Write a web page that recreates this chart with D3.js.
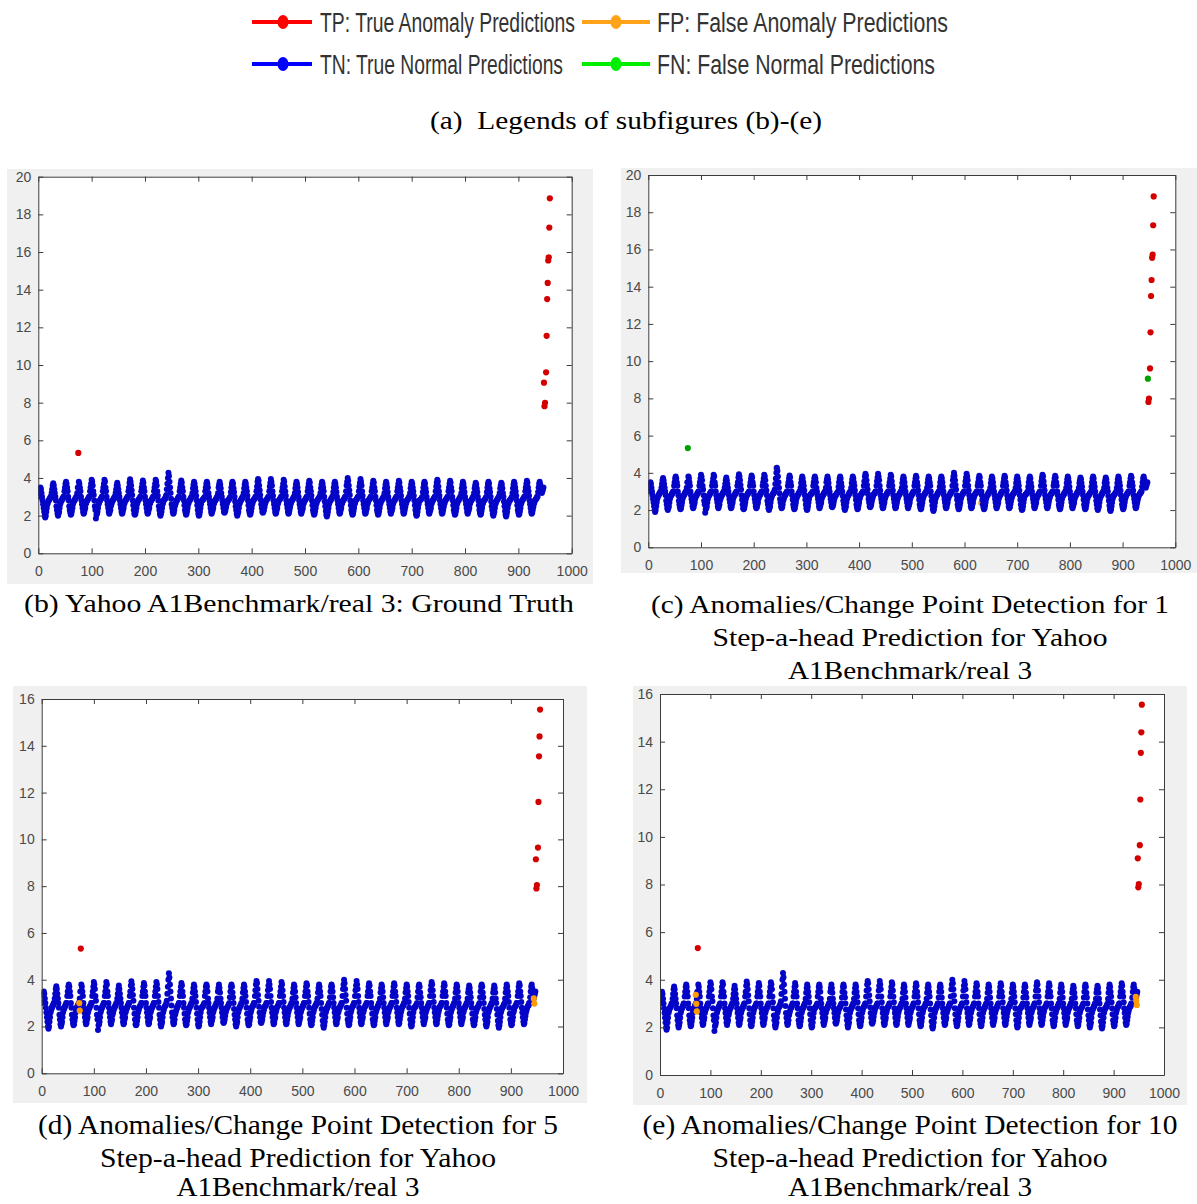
<!DOCTYPE html>
<html><head><meta charset="utf-8">
<script src="https://cdn.jsdelivr.net/npm/d3@7/dist/d3.min.js"></script>
<style>body{margin:0;background:#fff;}svg{display:block}</style>
</head><body>
<svg id="chart" width="1197" height="1204"></svg>
<script>
// ---------- data ----------
const xTicks = [0,100,200,300,400,500,600,700,800,900,1000];
const yTicks20 = [0,2,4,6,8,10,12,14,16,18,20];
const yTicks16 = [0,2,4,6,8,10,12,14,16];

// normal series (one row = 24 samples), index = x position
const tnValues = [
3.0,3.2,3.35,3.45,3.5,3.4,3.2,3.0,2.8,2.6,2.4,2.2,2.0,1.9,2.0,2.2,2.4,2.6,2.7,2.8,2.8,2.9,2.9,3.0,
3.0,3.2,3.4,3.6,3.72,3.6,3.4,3.2,3.0,2.8,2.5,2.3,2.1,2.0,2.1,2.2,2.4,2.6,2.7,2.8,2.8,2.9,2.9,3.0,
3.0,3.3,3.5,3.7,3.8,3.7,3.5,3.3,3.0,2.8,2.5,2.3,2.15,2.05,2.1,2.25,2.4,2.6,2.7,2.8,2.8,2.9,2.9,3.0,
3.0,3.2,3.5,null,3.8,3.7,3.5,3.3,3.0,2.8,2.6,2.4,2.2,2.1,2.15,2.3,2.4,2.6,2.7,2.8,2.8,2.9,2.9,3.0,
3.0,3.3,3.5,3.7,3.9,3.8,3.6,3.3,3.1,2.8,2.5,2.3,1.85,2.05,2.1,2.2,2.4,2.6,2.7,2.8,2.8,2.9,2.9,3.0,
3.0,3.3,3.5,3.7,3.9,3.8,3.5,3.3,3.0,2.8,2.6,2.4,2.2,2.1,2.2,2.3,2.5,2.6,2.7,2.8,2.8,2.9,2.9,3.0,
3.0,3.2,3.4,3.6,3.75,3.6,3.4,3.2,3.0,2.8,2.6,2.4,2.2,2.1,2.15,2.3,2.4,2.6,2.7,2.8,2.8,2.9,2.9,3.0,
3.0,3.3,3.5,3.75,3.93,3.8,3.6,3.35,3.1,2.8,2.55,2.3,2.1,2.05,2.1,2.25,2.4,2.6,2.7,2.8,2.85,2.9,2.9,3.0,
3.0,3.3,3.5,3.7,3.86,3.75,3.5,3.3,3.0,2.8,2.6,2.4,2.2,2.1,2.15,2.3,2.4,2.6,2.7,2.8,2.8,2.9,2.9,3.0,
3.0,3.3,3.5,3.7,3.9,3.8,3.6,3.3,3.05,2.8,2.5,2.3,2.1,2.0,2.1,2.2,2.4,2.6,2.7,2.8,2.85,2.9,2.9,3.0,
3.1,3.4,3.7,4.0,4.28,4.1,3.8,3.5,3.2,2.9,2.6,2.4,2.2,2.1,2.15,2.3,2.5,2.6,2.7,2.8,2.8,2.9,2.9,3.0,
3.0,3.3,3.5,3.7,3.86,3.75,3.5,3.3,3.0,2.8,2.55,2.3,2.15,2.05,2.1,2.25,2.4,2.6,2.7,2.8,2.8,2.9,2.9,3.0,
3.0,3.2,3.45,3.65,3.8,3.7,3.5,3.3,3.05,2.8,2.55,2.3,2.1,2.0,2.05,2.2,2.4,2.6,2.75,2.8,2.85,2.85,2.9,2.95,
3.0,3.3,3.5,3.7,3.8,3.7,3.5,3.2,3.0,2.8,2.6,2.4,2.2,2.1,2.2,2.3,2.4,2.6,2.7,2.8,2.8,2.9,2.9,3.0,
3.0,3.2,3.5,3.65,3.8,3.65,3.45,3.2,3.0,2.8,2.6,2.4,2.2,2.15,2.2,2.3,2.45,2.6,2.7,2.8,2.8,2.85,2.9,2.95,
3.0,3.25,3.5,3.7,3.8,3.7,3.45,3.25,3.0,2.75,2.5,2.3,2.1,2.0,2.1,2.2,2.4,2.6,2.7,2.8,2.8,2.9,2.9,3.0,
3.0,3.2,3.45,3.65,3.8,3.7,3.5,3.3,3.05,2.8,2.55,2.3,2.15,2.05,2.1,2.25,2.4,2.6,2.7,2.8,2.85,2.9,2.9,3.0,
3.0,3.3,3.55,3.8,3.95,3.85,3.6,3.35,3.1,2.85,2.6,2.4,2.2,2.15,2.2,2.3,2.45,2.6,2.7,2.8,2.85,2.9,2.9,3.0,
3.0,3.3,3.55,3.75,3.95,3.8,3.6,3.3,3.05,2.8,2.6,2.4,2.2,2.1,2.15,2.3,2.4,2.6,2.7,2.8,2.85,2.9,2.9,3.0,
3.0,3.3,3.5,3.7,3.9,3.8,3.55,3.3,3.05,2.8,2.6,2.4,2.2,2.1,2.15,2.3,2.45,2.6,2.7,2.8,2.8,2.9,2.9,3.0,
3.0,3.2,3.45,3.65,3.8,3.7,3.5,3.25,3.0,2.8,2.6,2.4,2.2,2.1,2.2,2.3,2.4,2.6,2.7,2.8,2.8,2.9,2.9,3.0,
3.0,3.3,3.5,3.7,3.85,3.75,3.5,3.3,3.05,2.8,2.55,2.3,2.15,2.05,2.1,2.25,2.4,2.6,2.7,2.8,2.85,2.9,2.9,3.0,
3.0,3.2,3.45,3.65,3.8,3.7,3.5,3.3,3.0,2.75,2.5,2.25,2.05,1.95,2.05,2.2,2.4,2.6,2.7,2.8,2.8,2.9,2.9,3.0,
3.0,3.25,3.5,3.7,3.8,3.7,3.5,3.25,3.0,2.8,2.6,2.4,2.2,2.1,2.15,2.3,2.4,2.6,2.7,2.8,2.8,2.9,2.9,3.0,
3.0,3.3,3.6,3.8,4.0,3.85,3.6,3.35,3.1,2.8,2.55,2.3,2.15,2.05,2.1,2.25,2.4,2.6,2.7,2.8,2.85,2.9,2.9,3.0,
3.0,3.3,3.55,3.75,3.95,3.8,3.6,3.3,3.05,2.8,2.6,2.4,2.2,2.1,2.15,2.3,2.4,2.6,2.7,2.8,2.85,2.9,2.9,3.0,
3.0,3.3,3.5,3.7,3.85,3.75,3.5,3.3,3.0,2.8,2.55,2.3,2.15,2.05,2.1,2.25,2.4,2.6,2.7,2.8,2.8,2.9,2.9,3.0,
3.0,3.2,3.45,3.65,3.8,3.7,3.5,3.25,3.0,2.8,2.6,2.4,2.2,2.1,2.2,2.3,2.4,2.6,2.7,2.8,2.8,2.9,2.9,3.0,
3.0,3.3,3.5,3.7,3.85,3.75,3.5,3.3,3.05,2.8,2.6,2.4,2.2,2.1,2.15,2.3,2.45,2.6,2.7,2.8,2.85,2.9,2.9,3.0,
3.0,3.2,3.45,3.65,3.8,3.7,3.5,3.3,3.05,2.8,2.55,2.3,2.1,2.0,2.05,2.2,2.4,2.6,2.75,2.8,2.85,2.85,2.9,2.95,
3.0,3.25,3.5,3.7,3.8,3.7,3.45,3.25,3.0,2.8,2.6,2.4,2.2,2.1,2.2,2.3,2.4,2.6,2.7,2.8,2.8,2.9,2.9,3.0,
3.0,3.3,3.55,3.75,3.9,3.8,3.55,3.3,3.05,2.8,2.6,2.4,2.2,2.1,2.15,2.3,2.45,2.6,2.7,2.8,2.85,2.9,2.9,3.0,
3.0,3.3,3.5,3.7,3.85,3.75,3.5,3.3,3.0,2.8,2.55,2.3,2.15,2.05,2.1,2.25,2.4,2.6,2.7,2.8,2.8,2.9,2.9,3.0,
3.0,3.2,3.45,3.65,3.8,3.7,3.5,3.25,3.0,2.8,2.6,2.4,2.2,2.1,2.2,2.3,2.4,2.6,2.7,2.8,2.8,2.9,2.9,3.0,
3.0,3.2,3.45,3.6,3.75,3.65,3.45,3.25,3.0,2.8,2.55,2.3,2.15,2.05,2.1,2.25,2.4,2.6,2.7,2.8,2.8,2.85,2.9,2.95,
3.0,3.25,3.5,3.7,3.8,3.7,3.45,3.25,3.0,2.75,2.5,2.3,2.1,2.0,2.1,2.2,2.4,2.6,2.7,2.8,2.8,2.9,2.9,3.0,
3.0,3.2,3.45,3.6,3.75,3.65,3.45,3.2,3.0,2.75,2.5,2.25,2.05,1.95,2.05,2.2,2.4,2.6,2.7,2.8,2.8,2.85,2.9,2.95,
3.0,3.2,3.45,3.65,3.8,3.7,3.5,3.3,3.05,2.8,2.55,2.3,2.15,2.05,2.1,2.25,2.4,2.6,2.7,2.8,2.85,2.9,2.9,3.0,
3.0,3.3,3.5,3.7,3.85,3.75,3.5,3.3,3.05,2.8,2.6,2.4,2.2,2.1,2.15,2.3,2.45,2.6,2.7,2.8,2.85,2.9,2.9,3.0,
3.0,3.25,3.5,3.7,3.8,3.65,3.45,3.3,3.2,3.3,3.4,3.5
];

// anomaly / misclassified points as [x, value]
const tpGroundTruth = [[75,5.33],[948,9.06],[949,7.81],[950,7.99],[952,9.61],[953,11.55],[954,13.5],[955,14.36],[956,15.55],[957,15.72],[958,17.3],[959,18.85]];
const tpStep1 = [[949,7.81],[950,7.99],[952,9.61],[953,11.55],[954,13.5],[955,14.36],[956,15.55],[957,15.72],[958,17.3],[959,18.85]];
const fnStep1 = [[75,5.33],[948,9.06]];
const fpStep1 = [[77,3.78],[243,4.25],[632,2.38]];
const tpStep5 = [[75,5.33],[948,9.15],[949,7.9],[950,8.05],[952,9.65],[953,11.6],[954,13.55],[955,14.4],[956,15.55]];
const fpStep5 = [[72,3.0],[73,2.68],[944,3.2],[945,2.98]];
const tpStep10 = [[75,5.33],[948,9.1],[949,7.88],[950,8.02],[952,9.65],[953,11.57],[954,13.53],[955,14.39],[956,15.55]];
const fpStep10 = [[71,3.37],[72,2.99],[73,2.67],[944,3.28],[945,3.12],[946,2.94]];

const legendLabels = ["TP: True Anomaly Predictions","FP: False Anomaly Predictions","TN: True Normal Predictions","FN: False Normal Predictions"];

// ---------- styles ----------
const COL = {tp:"#d40000", fp:"#ff9a00", tn:"#0505c8", fn:"#00a000"};
const LEGCOL = {tp:"#ff0000", fp:"#ffa31a", tn:"#0000ff", fn:"#00ee00"};

const svg = d3.select("#chart");
const tnPoints = tnValues.map((v,i)=>[i,v]).filter(d=>d[1]!==null);

// ---------- legend ----------
const legItems = [
  {key:"tp", label:legendLabels[0], lx:[252,312], mx:283, y:22, tx:320, tw:255},
  {key:"fp", label:legendLabels[1], lx:[582,650], mx:616, y:22, tx:657, tw:291},
  {key:"tn", label:legendLabels[2], lx:[252,312], mx:283, y:64, tx:320, tw:243},
  {key:"fn", label:legendLabels[3], lx:[582,650], mx:616, y:64, tx:657, tw:278}
];
const leg = svg.append("g");
legItems.forEach(it=>{
  leg.append("line").attr("x1",it.lx[0]).attr("x2",it.lx[1]).attr("y1",it.y).attr("y2",it.y)
    .attr("stroke",LEGCOL[it.key]).attr("stroke-width",4);
  leg.append("ellipse").attr("cx",it.mx).attr("cy",it.y).attr("rx",5.5).attr("ry",7).attr("fill",LEGCOL[it.key]);
  leg.append("text").attr("x",it.tx).attr("y",it.y+10).text(it.label)
    .attr("font-family","Liberation Sans, Arial, sans-serif").attr("font-size",27)
    .attr("fill","#333").attr("textLength",it.tw).attr("lengthAdjust","spacingAndGlyphs");
});
svg.append("text").attr("x",430).attr("y",129).attr("font-family","Liberation Serif, Times New Roman, serif")
  .attr("font-size",26).attr("fill","#000").attr("xml:space","preserve").text("(a)  Legends of subfigures (b)-(e)")
  .attr("textLength",392).attr("lengthAdjust","spacingAndGlyphs");

// ---------- panels ----------
const panels = [
  {id:"b", bg:[7,169,586,415], l:38.3, r:571.7, t:176.7, b:553.3, ymax:20, yTicks:yTicks20,
   layers:[["tn",tnPoints],["tp",tpGroundTruth]],
   caption:[{t:"(b) Yahoo A1Benchmark/real 3: Ground Truth", y:612, w:550}], cx:299, fs:26},
  {id:"c", bg:[621,168,576,405], l:648.3, r:1175.3, t:175, b:547.3, ymax:20, yTicks:yTicks20,
   layers:[["fp",fpStep1],["tn",tnPoints],["tp",tpStep1],["fn",fnStep1]],
   caption:[{t:"(c) Anomalies/Change Point Detection for 1",y:613,w:518},{t:"Step-a-head Prediction for Yahoo",y:646,w:395},{t:"A1Benchmark/real 3",y:679,w:244}], cx:910, fs:26},
  {id:"d", bg:[13,686,574,417], l:41.7, r:563, t:699, b:1073.3, ymax:16, yTicks:yTicks16,
   layers:[["tn",tnPoints],["fp",fpStep5],["tp",tpStep5]],
   caption:[{t:"(d) Anomalies/Change Point Detection for 5",y:1134,w:520},{t:"Step-a-head Prediction for Yahoo",y:1167,w:396},{t:"A1Benchmark/real 3",y:1196,w:243}], cx:298, fs:28},
  {id:"e", bg:[633,686,554,419], l:660, r:1164, t:694, b:1075, ymax:16, yTicks:yTicks16,
   layers:[["tn",tnPoints],["fp",fpStep10],["tp",tpStep10]],
   caption:[{t:"(e) Anomalies/Change Point Detection for 10",y:1134,w:535},{t:"Step-a-head Prediction for Yahoo",y:1167,w:395},{t:"A1Benchmark/real 3",y:1196,w:244}], cx:910, fs:28}
];

panels.forEach(p=>{
  const g = svg.append("g");
  g.append("rect").attr("x",p.bg[0]).attr("y",p.bg[1]).attr("width",p.bg[2]).attr("height",p.bg[3]).attr("fill","#f0f0f0");
  g.append("rect").attr("x",p.l).attr("y",p.t).attr("width",p.r-p.l).attr("height",p.b-p.t).attr("fill","#fff");
  const x = d3.scaleLinear().domain([0,1000]).range([p.l,p.r]);
  const y = d3.scaleLinear().domain([0,p.ymax]).range([p.b,p.t]);

  g.append("clipPath").attr("id","clip"+p.id).append("rect")
    .attr("x",p.l).attr("y",p.t).attr("width",p.r-p.l).attr("height",p.b-p.t);
  const pts = g.append("g").attr("clip-path","url(#clip"+p.id+")");
  p.layers.forEach(([k,data])=>{
    pts.append("g").selectAll("circle").data(data).join("circle")
      .attr("cx",d=>x(d[0])).attr("cy",d=>y(d[1]))
      .attr("r", k==="tn"?3.0:3.1).attr("fill",COL[k]);
  });

  const styleAxis = a=>{
    a.selectAll("path,line").attr("stroke","#3c3c3c").attr("stroke-width",1);
    a.selectAll("text").attr("fill","#4a4a4a").attr("font-size",14)
      .attr("font-family","Liberation Sans, Arial, sans-serif");
  };
  g.append("g").attr("transform",`translate(0,${p.b})`)
    .call(d3.axisBottom(x).tickValues(xTicks).tickFormat(d3.format("d")).tickSizeInner(-5).tickSizeOuter(0).tickPadding(13)).call(styleAxis);
  g.append("g").attr("transform",`translate(0,${p.t})`)
    .call(d3.axisTop(x).tickValues(xTicks).tickFormat("").tickSizeInner(-5).tickSizeOuter(0)).call(styleAxis);
  g.append("g").attr("transform",`translate(${p.l},0)`)
    .call(d3.axisLeft(y).tickValues(p.yTicks).tickFormat(d3.format("d")).tickSizeInner(-5).tickSizeOuter(0).tickPadding(7)).call(styleAxis);
  g.append("g").attr("transform",`translate(${p.r},0)`)
    .call(d3.axisRight(y).tickValues(p.yTicks).tickFormat("").tickSizeInner(-5).tickSizeOuter(0)).call(styleAxis);

  p.caption.forEach(c=>{
    svg.append("text").attr("x",p.cx).attr("y",c.y).attr("text-anchor","middle")
      .attr("font-family","Liberation Serif, Times New Roman, serif").attr("font-size",p.fs)
      .attr("fill","#000").attr("textLength",c.w).attr("lengthAdjust","spacingAndGlyphs").text(c.t);
  });
});
</script>
</body></html>
